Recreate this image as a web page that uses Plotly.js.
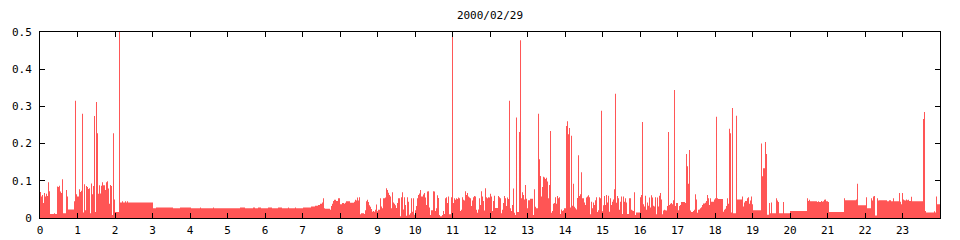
<!DOCTYPE html>
<html>
<head>
<meta charset="utf-8">
<script src="https://cdn.plot.ly/plotly-3.0.1.min.js"></script>
<style>html,body{margin:0;padding:0;background:#fff;}#chart{width:960px;height:240px;}</style>
</head>
<body>
<div id="chart"></div>
<script>
// Step start times (hour of day) and load values
const hours = [
0.000,0.027,0.053,0.080,0.107,0.133,0.160,0.187,0.213,0.240,0.267,0.373,0.400,0.453,0.480,0.507,0.533,0.560,0.587,0.613,
0.693,0.720,0.747,0.907,0.933,0.960,0.987,1.040,1.067,1.093,1.120,1.147,1.173,1.200,1.227,1.253,1.280,1.307,1.333,1.360,
1.387,1.413,1.440,1.467,1.493,1.520,1.547,1.573,1.600,1.627,1.653,1.680,1.733,1.760,1.787,1.813,1.840,1.867,1.893,1.920,
1.947,1.973,2.000,2.107,2.133,2.187,2.213,2.267,2.293,2.320,2.347,3.013,
3.093,3.547,3.733,4.027,4.267,4.293,4.613,4.640,5.333,5.467,5.680,5.733,5.813,5.893,6.080,6.187,6.347,6.453,6.613,6.640,
6.800,6.827,7.013,7.227,7.333,7.413,7.467,7.520,7.547,7.573,7.600,7.733,7.760,7.787,7.813,7.840,7.893,7.947,
8.000,8.053,8.107,8.133,8.160,8.267,8.373,8.400,8.427,8.453,8.480,8.507,8.533,8.560,8.640,8.667,8.693,8.720,8.747,8.773,
8.800,8.827,8.853,8.880,8.907,8.933,8.960,8.987,9.013,9.067,9.093,9.120,9.147,9.200,9.227,9.253,9.280,9.307,9.333,9.360,
9.387,9.413,9.440,9.467,9.493,9.520,9.547,9.600,9.627,9.653,9.680,9.707,9.733,9.760,9.787,9.813,9.840,9.867,9.893,9.920,
9.947,9.973,10.000,10.027,10.053,10.080,10.107,10.133,10.160,10.213,10.240,10.267,10.293,10.320,10.347,10.373,10.400,10.427,10.480,10.507,
10.533,10.560,10.587,10.613,10.640,10.667,10.720,10.747,10.773,10.800,10.827,10.853,10.880,10.907,10.960,10.987,11.013,11.040,11.067,11.093,
11.120,11.147,11.173,11.200,11.227,11.253,11.280,11.307,11.333,11.360,11.387,11.413,11.440,11.467,11.493,11.520,11.547,11.573,11.600,11.627,
11.653,11.680,11.707,11.733,11.760,11.787,11.813,11.840,11.867,11.893,11.920,11.947,11.973,12.000,12.027,12.053,12.080,12.107,12.133,12.213,
12.240,12.267,12.293,12.320,12.347,12.373,12.400,12.427,12.453,12.480,12.507,12.533,12.560,12.587,12.613,12.640,12.667,12.693,12.720,12.773,
12.800,12.827,12.853,12.880,12.907,12.933,12.960,12.987,13.013,13.067,13.147,13.173,13.200,13.227,13.280,13.307,13.333,13.360,13.387,13.413,
13.440,13.467,13.493,13.520,13.547,13.573,13.600,13.627,13.653,13.680,13.707,13.733,13.760,13.787,13.813,13.840,13.867,13.893,13.920,13.947,
13.973,14.027,14.053,14.080,14.107,14.133,14.160,14.187,14.213,14.240,14.267,14.293,14.320,14.347,14.373,14.400,14.427,14.453,14.507,14.533,
14.560,14.587,14.613,14.640,14.667,14.693,14.720,14.747,14.773,14.800,14.827,14.853,14.880,14.907,14.933,14.960,14.987,15.013,15.040,15.067,
15.093,15.120,15.147,15.173,15.200,15.227,15.253,15.280,15.307,15.333,15.360,15.387,15.413,15.440,15.467,15.493,15.520,15.547,15.573,15.600,
15.627,15.653,15.707,15.760,15.787,15.813,15.840,15.867,15.893,16.000,16.027,16.053,16.080,16.107,16.133,16.160,16.187,16.213,16.240,16.267,
16.293,16.320,16.347,16.373,16.400,16.427,16.453,16.480,16.507,16.533,16.560,16.587,16.613,16.640,16.667,16.693,16.720,16.747,16.773,16.800,
16.827,16.853,16.880,16.907,16.933,16.960,17.013,17.040,17.067,17.093,17.200,17.227,17.253,17.280,17.307,17.333,17.360,17.413,17.440,17.467,
17.493,17.520,17.547,17.573,17.600,17.627,17.653,17.680,17.733,17.760,17.787,17.813,17.840,17.867,17.893,17.973,18.000,18.027,18.053,18.080,
18.213,18.240,18.267,18.293,18.320,18.347,18.373,18.400,18.427,18.453,18.480,18.560,18.587,18.720,18.747,18.773,18.800,18.853,18.880,18.907,
18.933,18.960,18.987,19.013,19.227,19.253,19.280,19.333,19.360,19.387,19.440,19.467,19.493,19.520,19.627,19.653,19.680,19.707,19.813,19.840,
20.000,20.453,20.480,20.507,20.533,20.720,20.747,20.773,20.827,20.853,20.880,20.907,20.933,20.960,21.013,21.040,21.440,21.467,21.760,21.787,
21.813,22.027,22.053,22.160,22.187,22.213,22.240,22.267,22.320,22.347,22.373,22.587,22.640,22.693,22.747,22.773,22.907,22.933,22.960,22.987,
23.013,23.040,23.067,23.093,23.120,23.147,23.173,23.227,23.253,23.547,23.573,23.600,23.627,23.840,23.867,23.893,23.920,24.000
];
const load = [
0.070,0.058,0.062,0.040,0.067,0.058,0.065,0.059,0.096,0.072,0.011,0.013,0.011,0.085,0.083,0.087,0.071,0.067,0.104,0.013,
0.075,0.058,0.023,0.045,0.315,0.064,0.058,0.077,0.070,0.073,0.280,0.015,0.091,0.021,0.086,0.083,0.078,0.080,0.013,0.093,
0.064,0.086,0.274,0.016,0.312,0.228,0.065,0.088,0.066,0.087,0.096,0.088,0.075,0.096,0.099,0.079,0.038,0.089,0.086,0.008,
0.228,0.050,0.016,0.600,0.042,0.045,0.042,0.045,0.042,0.045,0.042,0.026,
0.028,0.026,0.028,0.026,0.028,0.026,0.028,0.026,0.028,0.026,0.028,0.026,0.028,0.026,0.028,0.026,0.028,0.026,0.028,0.026,
0.028,0.026,0.028,0.031,0.033,0.035,0.038,0.042,0.053,0.026,0.025,0.022,0.032,0.038,0.046,0.049,0.046,0.053,
0.037,0.040,0.038,0.041,0.045,0.041,0.044,0.049,0.047,0.055,0.047,0.056,0.010,0.013,0.011,0.021,0.045,0.049,0.043,0.034,
0.030,0.024,0.017,0.019,0.017,0.022,0.036,0.018,0.022,0.053,0.031,0.026,0.053,0.055,0.080,0.075,0.068,0.062,0.058,0.026,
0.069,0.042,0.038,0.034,0.027,0.040,0.053,0.005,0.056,0.069,0.023,0.056,0.035,0.006,0.056,0.044,0.009,0.013,0.053,0.017,
0.053,0.009,0.021,0.032,0.053,0.062,0.066,0.075,0.058,0.063,0.067,0.055,0.035,0.071,0.072,0.028,0.008,0.021,0.072,0.071,
0.019,0.026,0.061,0.054,0.008,0.005,0.008,0.019,0.011,0.053,0.056,0.040,0.058,0.010,0.056,0.600,0.040,0.053,0.049,0.053,
0.051,0.055,0.053,0.019,0.022,0.056,0.049,0.047,0.072,0.062,0.067,0.058,0.055,0.053,0.032,0.047,0.056,0.059,0.058,0.022,
0.014,0.023,0.053,0.035,0.072,0.058,0.046,0.020,0.080,0.056,0.053,0.056,0.055,0.065,0.058,0.019,0.046,0.060,0.027,0.059,
0.056,0.053,0.013,0.022,0.040,0.059,0.053,0.032,0.055,0.051,0.315,0.026,0.019,0.035,0.079,0.014,0.008,0.270,0.016,0.231,
0.478,0.053,0.069,0.062,0.050,0.089,0.052,0.026,0.048,0.052,0.008,0.077,0.030,0.026,0.280,0.158,0.113,0.058,0.083,0.111,
0.109,0.105,0.108,0.098,0.053,0.089,0.234,0.014,0.019,0.038,0.040,0.056,0.038,0.059,0.053,0.056,0.011,0.023,0.019,0.021,
0.026,0.247,0.260,0.225,0.242,0.028,0.221,0.033,0.092,0.030,0.026,0.023,0.054,0.169,0.059,0.064,0.123,0.053,0.042,0.035,
0.055,0.058,0.061,0.056,0.010,0.044,0.026,0.042,0.035,0.048,0.056,0.016,0.021,0.056,0.053,0.288,0.018,0.034,0.059,0.035,
0.062,0.042,0.060,0.017,0.053,0.035,0.044,0.050,0.077,0.334,0.041,0.059,0.053,0.022,0.044,0.058,0.011,0.058,0.044,0.053,
0.042,0.011,0.053,0.022,0.020,0.019,0.069,0.008,0.015,0.056,0.062,0.258,0.037,0.031,0.060,0.022,0.042,0.033,0.055,0.028,
0.061,0.055,0.033,0.031,0.056,0.010,0.055,0.031,0.060,0.067,0.050,0.010,0.020,0.022,0.021,0.020,0.032,0.231,0.035,0.038,
0.040,0.037,0.048,0.344,0.032,0.040,0.021,0.032,0.035,0.043,0.040,0.172,0.139,0.092,0.183,0.020,0.016,0.019,0.022,0.064,
0.050,0.014,0.022,0.023,0.026,0.029,0.035,0.039,0.041,0.046,0.062,0.053,0.035,0.053,0.044,0.050,0.053,0.272,0.053,0.051,
0.017,0.022,0.025,0.032,0.053,0.038,0.240,0.228,0.015,0.296,0.013,0.275,0.050,0.058,0.031,0.042,0.046,0.053,0.056,0.038,
0.047,0.058,0.037,0.021,0.200,0.112,0.134,0.204,0.172,0.009,0.040,0.013,0.042,0.013,0.053,0.047,0.043,0.013,0.043,0.013,
0.019,0.053,0.046,0.049,0.045,0.043,0.045,0.043,0.046,0.044,0.045,0.049,0.050,0.045,0.043,0.016,0.053,0.048,0.050,0.092,
0.034,0.056,0.026,0.053,0.047,0.058,0.059,0.007,0.053,0.047,0.048,0.045,0.048,0.045,0.053,0.045,0.067,0.044,0.037,0.067,
0.050,0.048,0.047,0.050,0.048,0.049,0.046,0.057,0.045,0.266,0.285,0.019,0.015,0.018,0.015,0.058,0.037,0.037
];
const hourTicks = [0,1,2,3,4,5,6,7,8,9,10,11,12,13,14,15,16,17,18,19,20,21,22,23];
const loadTicks = [0,0.1,0.2,0.3,0.4,0.5];
const titleText = '2000/02/29';

const font = {family: 'DejaVu Sans Mono, monospace', size: 11, color: '#000'};
const trace = {
  type: 'scatter', mode: 'lines',
  x: hours, y: load,
  line: {shape: 'hv', width: 0, color: '#ff5555', simplify: false},
  fill: 'tozeroy', fillcolor: '#ff5555',
  hoverinfo: 'skip'
};
const axisCommon = {
  showgrid: false, zeroline: false, showline: true, linecolor: '#000', linewidth: 1,
  mirror: 'ticks', ticks: 'inside', ticklen: 5, tickwidth: 1, tickcolor: '#000',
  tickfont: font, fixedrange: true
};
const layout = {
  width: 960, height: 240,
  margin: {l: 40, r: 20, t: 32, b: 22, pad: 0},
  paper_bgcolor: '#fff', plot_bgcolor: '#fff',
  showlegend: false,
  title: {text: titleText, font: font, x: 0.5, xref: 'paper', xanchor: 'center', y: 0.935, yref: 'container', yanchor: 'middle'},
  xaxis: Object.assign({}, axisCommon, {range: [0, 24], tickmode: 'array', tickvals: hourTicks, ticktext: hourTicks.map(String), ticklabelstandoff: 2}),
  yaxis: Object.assign({}, axisCommon, {range: [0, 0.5], tickmode: 'array', tickvals: loadTicks, ticktext: loadTicks.map(String), ticklabelstandoff: 5})
};
Plotly.newPlot('chart', [trace], layout, {staticPlot: true, displayModeBar: false});
</script>
</body>
</html>
